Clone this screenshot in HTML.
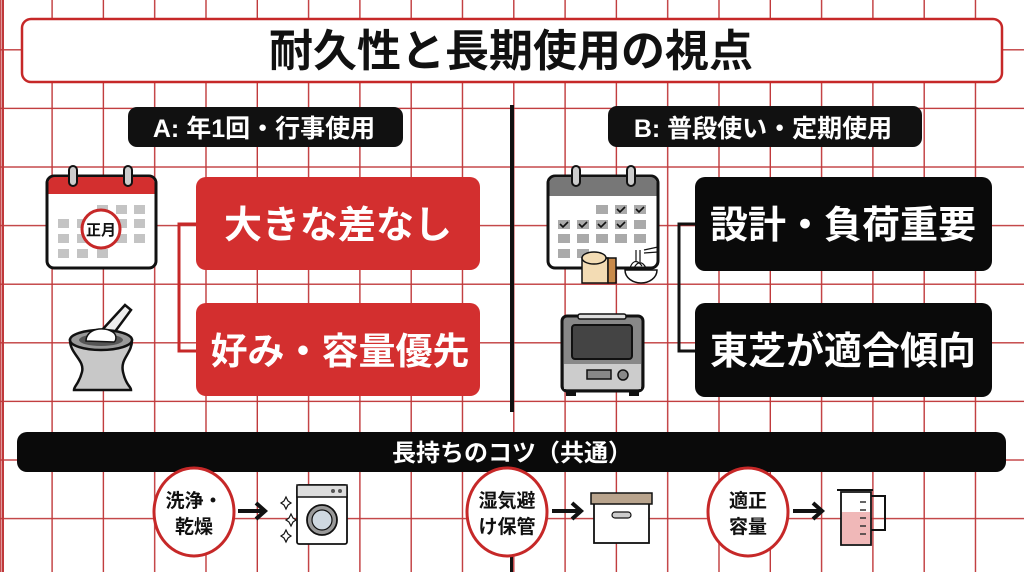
<!DOCTYPE html>
<html><head><meta charset="utf-8"><style>
html,body{margin:0;padding:0;background:#fff;}
svg{display:block;}
text{font-family:"Liberation Sans","Noto Sans CJK JP",sans-serif;font-weight:bold;}
</style></head><body>
<svg width="1024" height="572" viewBox="0 0 1024 572" xmlns="http://www.w3.org/2000/svg">
<defs>
<pattern id="g" x="0" y="-9.6" width="51.3" height="58.6" patternUnits="userSpaceOnUse">
<path d="M0.8 0V58.6M0 0.8H51.3" stroke="#c0393b" stroke-width="1.4" fill="none"/>
</pattern>
</defs>
<rect width="1024" height="572" fill="#fff"/>
<rect width="1024" height="572" fill="url(#g)"/>
<line x1="3" y1="0" x2="3" y2="572" stroke="#c0393b" stroke-width="2"/>

<!-- title -->
<rect x="22" y="19" width="980" height="63" rx="9" fill="#fff" stroke="#c62828" stroke-width="2.5"/>
<text x="511" y="66" font-size="44" text-anchor="middle" fill="#111">耐久性と長期使用の視点</text>

<!-- divider -->
<rect x="510" y="105" width="4" height="307" fill="#111"/>

<!-- labels -->
<rect x="128" y="107" width="275" height="40" rx="9" fill="#111"/>
<text x="264" y="137" font-size="25" text-anchor="middle" fill="#fff">A: 年1回・行事使用</text>
<rect x="608" y="106" width="314" height="41" rx="9" fill="#111"/>
<text x="763" y="137" font-size="25" text-anchor="middle" fill="#fff">B: 普段使い・定期使用</text>

<!-- A connectors -->
<path d="M196 224H179V351H196" stroke="#c62828" stroke-width="3" fill="none"/>
<rect x="196" y="177" width="284" height="93" rx="10" fill="#d32f2f"/>
<text x="338" y="238" font-size="38" text-anchor="middle" fill="#fff">大きな差なし</text>
<rect x="196" y="303" width="284" height="93" rx="10" fill="#d32f2f"/>
<text x="340" y="364" font-size="37" text-anchor="middle" fill="#fff">好み・容量優先</text>

<!-- B connectors -->
<path d="M695 224H679V351H695" stroke="#111" stroke-width="3" fill="none"/>
<rect x="695" y="177" width="297" height="94" rx="10" fill="#0a0a0a"/>
<text x="843" y="238" font-size="38" text-anchor="middle" fill="#fff">設計・負荷重要</text>
<rect x="695" y="303" width="297" height="94" rx="10" fill="#0a0a0a"/>
<text x="843" y="364" font-size="38" text-anchor="middle" fill="#fff">東芝が適合傾向</text>

<!-- calendar A -->
<rect x="47" y="176" width="109" height="92" rx="7" fill="#fff" stroke="#111" stroke-width="3"/>
<path d="M48.5 194V183a6 6 0 0 1 6-6h94a6 6 0 0 1 6 6v11z" fill="#d32f2f"/>
<rect x="69" y="166" width="8" height="20" rx="4" fill="#ccc" stroke="#111" stroke-width="2"/>
<rect x="124" y="166" width="8" height="20" rx="4" fill="#ccc" stroke="#111" stroke-width="2"/>
<g fill="#c4c4c4">
<rect x="97" y="205" width="11" height="9"/><rect x="116" y="205" width="11" height="9"/><rect x="134" y="205" width="11" height="9"/>
<rect x="58" y="219" width="11" height="9"/><rect x="77" y="219" width="11" height="9"/><rect x="116" y="219" width="11" height="9"/><rect x="134" y="219" width="11" height="9"/>
<rect x="58" y="234" width="11" height="9"/><rect x="77" y="234" width="11" height="9"/><rect x="116" y="234" width="11" height="9"/><rect x="134" y="234" width="11" height="9"/>
<rect x="58" y="249" width="11" height="9"/><rect x="77" y="249" width="11" height="9"/><rect x="97" y="249" width="11" height="9"/>
</g>
<circle cx="101" cy="229" r="19" fill="#fff" stroke="#c62828" stroke-width="3"/>
<text x="101" y="235" font-size="15" text-anchor="middle" fill="#111">正月</text>

<!-- mortar -->
<path d="M102 330L125 305l6 5-20 27z" fill="#eee" stroke="#111" stroke-width="2.5"/>
<path d="M70 340h62c0 14-12 18-9 32s8 14 8 18H74c0-4 5-6 8-18s-12-18-12-32z" fill="#c8c8c8" stroke="#111" stroke-width="2.5"/>
<ellipse cx="101" cy="340" rx="31" ry="10" fill="#999" stroke="#111" stroke-width="2.5"/>
<ellipse cx="101" cy="340" rx="22" ry="6" fill="#555"/>
<path d="M86 341c0-12 18-16 28-8 3 3 2 8 0 9z" fill="#fff" stroke="#111" stroke-width="1.5"/>

<!-- calendar B -->
<rect x="548" y="176" width="110" height="92" rx="7" fill="#fff" stroke="#111" stroke-width="3"/>
<path d="M549.5 196V183a6 6 0 0 1 6-6h95a6 6 0 0 1 6 6v13z" fill="#777"/>
<rect x="572" y="166" width="8" height="20" rx="4" fill="#ccc" stroke="#111" stroke-width="2"/>
<rect x="627" y="166" width="8" height="20" rx="4" fill="#ccc" stroke="#111" stroke-width="2"/>
<g fill="#aaa">
<rect x="596" y="205" width="12" height="9"/><rect x="615" y="205" width="12" height="9"/><rect x="634" y="205" width="12" height="9"/>
<rect x="558" y="220" width="12" height="9"/><rect x="577" y="220" width="12" height="9"/><rect x="596" y="220" width="12" height="9"/><rect x="615" y="220" width="12" height="9"/><rect x="634" y="220" width="12" height="9"/>
<rect x="558" y="234" width="12" height="9"/><rect x="577" y="234" width="12" height="9"/><rect x="596" y="234" width="12" height="9"/><rect x="615" y="234" width="12" height="9"/><rect x="634" y="234" width="12" height="9"/>
<rect x="558" y="249" width="12" height="9"/><rect x="577" y="249" width="12" height="9"/>
</g>
<g stroke="#111" stroke-width="1.6" fill="none">
<path d="M617 209l3 3 5-5M636 209l3 3 5-5M560 224l3 3 5-5M579 224l3 3 5-5M598 224l3 3 5-5M617 224l3 3 5-5"/>
</g>
<path d="M582 258h26v25h-26z" fill="#f3dcb4" stroke="#111" stroke-width="1.5"/>
<path d="M590 258h26v25h-8v-25" fill="#c98a4a" stroke="#111" stroke-width="1.5"/>
<ellipse cx="594" cy="258" rx="12" ry="6" fill="#f3dcb4" stroke="#111" stroke-width="1.5"/>
<path d="M625 270h32c0 8-8 13-16 13s-16-5-16-13z" fill="#fff" stroke="#111" stroke-width="1.5"/>
<path d="M630 268c2-6 6-10 12-2M634 268c3-6 8-8 12 0M636 262v-12M640 262v-12M644 250l14-3M644 253l14-1" stroke="#111" stroke-width="1.2" fill="none"/>

<!-- toaster -->
<rect x="562" y="316" width="81" height="75" rx="5" fill="#888" stroke="#111" stroke-width="3"/>
<rect x="578" y="314" width="48" height="5" rx="2" fill="#ddd" stroke="#111" stroke-width="1.5"/>
<rect x="572" y="325" width="60" height="34" rx="3" fill="#444" stroke="#111" stroke-width="2"/>
<rect x="564" y="364" width="77" height="25" fill="#ccc"/>
<rect x="587" y="370" width="24" height="9" fill="#888" stroke="#111" stroke-width="1.5"/>
<circle cx="623" cy="375" r="5" fill="#888" stroke="#111" stroke-width="1.5"/>
<rect x="566" y="391" width="10" height="5" fill="#111"/><rect x="629" y="391" width="10" height="5" fill="#111"/>

<!-- bottom band -->
<rect x="17" y="432" width="989" height="40" rx="10" fill="#0a0a0a"/>
<text x="512" y="461" font-size="24" text-anchor="middle" fill="#fff">長持ちのコツ（共通）</text>

<!-- vertical below -->
<rect x="510" y="555" width="3" height="17" fill="#111"/>

<!-- circles -->
<g fill="#fff" stroke="#c62828" stroke-width="3">
<ellipse cx="194" cy="512" rx="40" ry="44"/>
<ellipse cx="507" cy="512" rx="40" ry="44"/>
<ellipse cx="748" cy="512" rx="40" ry="44"/>
</g>
<g font-size="19" text-anchor="middle" fill="#111">
<text x="194" y="507">洗浄・</text><text x="194" y="533">乾燥</text>
<text x="507" y="507">湿気避</text><text x="507" y="533">け保管</text>
<text x="748" y="507">適正</text><text x="748" y="533">容量</text>
</g>
<g stroke="#111" stroke-width="4" fill="none">
<path d="M238 511H264M256 503l9 8-9 8"/>
<path d="M552 511H580M572 503l9 8-9 8"/>
<path d="M793 511H821M813 503l9 8-9 8"/>
</g>

<!-- washer -->
<rect x="297" y="485" width="50" height="59" rx="2" fill="#fff" stroke="#111" stroke-width="1.8"/>
<rect x="297" y="485" width="50" height="12" fill="#ddd" stroke="#111" stroke-width="1.5"/>
<circle cx="333" cy="491" r="2" fill="#555"/><circle cx="340" cy="491" r="2" fill="#555"/>
<circle cx="322" cy="520" r="15" fill="#999" stroke="#111" stroke-width="1.8"/>
<circle cx="322" cy="520" r="10" fill="#cfd8e0" stroke="#111" stroke-width="1.2"/>
<g fill="#fff" stroke="#111" stroke-width="1.2">
<path d="M286 497l2 4 3 2-3 2-2 4-2-4-3-2 3-2z"/>
<path d="M291 514l2 4 3 2-3 2-2 4-2-4-3-2 3-2z"/>
<path d="M286 530l2 4 3 2-3 2-2 4-2-4-3-2 3-2z"/>
</g>

<!-- box -->
<rect x="594" y="503" width="55" height="40" fill="#fff" stroke="#111" stroke-width="1.8"/>
<rect x="591" y="493" width="61" height="11" fill="#b9a48d" stroke="#111" stroke-width="1.5"/>
<rect x="612" y="512" width="19" height="6" rx="3" fill="#ccc" stroke="#111" stroke-width="1.2"/>

<!-- jug -->
<path d="M841 492h30v53h-30z" fill="#fff" stroke="#111" stroke-width="1.8"/>
<path d="M842 512h28v32h-28z" fill="#f0b8b8"/>
<path d="M871 496h14v34h-14" fill="none" stroke="#111" stroke-width="2"/>
<path d="M837 490h36" stroke="#111" stroke-width="2"/>
<g stroke="#333" stroke-width="1.5"><path d="M860 502h6M860 510h6M860 518h6M860 526h6M860 534h6"/></g>
</svg>
</body></html>
